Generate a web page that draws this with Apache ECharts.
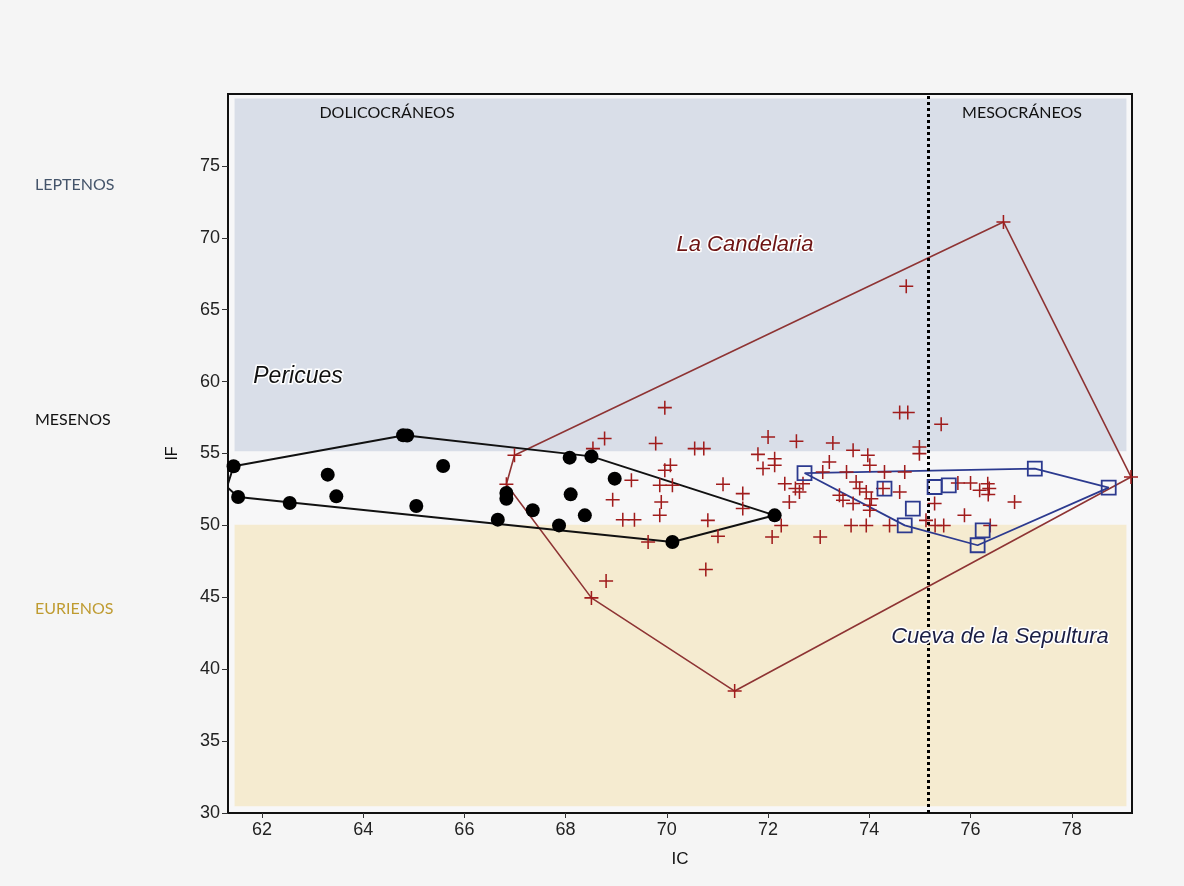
<!DOCTYPE html>
<html>
<head>
<meta charset="utf-8">
<script src="https://cdn.jsdelivr.net/npm/echarts@6/dist/echarts.min.js"></script>
<style>
html,body{margin:0;padding:0;background:#f5f5f5;}
#chart{width:1184px;height:886px;}
</style>
</head>
<body>
<div id="chart"></div>
<script>
// ---- data ----
const xTicks = [62, 64, 66, 68, 70, 72, 74, 76, 78];
const yTicks = [30, 35, 40, 45, 50, 55, 60, 65, 70, 75];
const icDivider = 75.17;          // DOLICOCRÁNEOS | MESOCRÁNEOS
const ifUpper = 55.15;            // LEPTENOS / MESENOS
const ifLower = 50.05;            // MESENOS / EURIENOS

const pericues = [
  [61.44,54.11],[61.31,52.67],[61.53,51.97],[62.55,51.56],[63.30,53.53],[63.47,52.02],
  [64.79,56.27],[64.87,56.25],[65.58,54.13],[65.05,51.35],[66.83,52.25],[66.83,51.85],
  [66.66,50.40],[67.35,51.05],[67.87,50.00],[68.08,54.71],[68.51,54.80],[68.10,52.16],
  [68.38,50.70],[68.97,53.25],[70.11,48.85],[72.13,50.70]
];
const pericuesHull = [
  [61.31,52.67],[61.44,54.11],[64.82,56.27],[68.51,54.80],[72.13,50.70],[70.11,48.85],[61.53,51.97],[61.31,52.67]
];

const candelaria = [
  [66.99,54.88],[76.65,71.10],[79.17,53.37],[71.34,38.48],[68.51,44.96],[66.83,52.86],
  [74.73,66.63],[69.96,58.19],[68.77,56.04],[68.54,55.34],[69.78,55.69],[70.55,55.34],[70.73,55.34],
  [70.07,54.18],[69.96,53.83],[69.30,53.14],[69.86,52.79],[70.11,52.79],[68.93,51.79],[69.89,51.63],
  [69.86,50.70],[69.13,50.40],[69.36,50.40],[69.63,48.85],[68.80,46.14],[70.77,46.93],
  [71.11,52.86],[71.50,52.21],[71.50,51.17],[70.81,50.35],[71.01,49.24],
  [72.00,56.15],[72.56,55.85],[71.80,54.94],[72.13,54.64],[72.13,54.18],[71.90,53.95],
  [72.33,52.90],[72.54,52.56],[72.62,52.32],[72.69,52.90],[72.42,51.63],[72.26,50.00],[72.08,49.19],[73.03,49.19],
  [73.08,53.71],[73.28,55.73],[73.68,55.22],[73.97,54.88],[73.21,54.41],[74.01,54.18],
  [73.55,53.71],[74.30,53.71],[74.70,53.71],[74.99,55.45],[74.99,54.99],
  [73.74,53.02],[73.81,52.56],[73.94,52.32],[73.41,52.09],[73.48,51.75],[73.68,51.52],[74.04,51.86],[74.01,51.40],[74.01,51.05],
  [74.60,52.32],[74.27,52.56],[73.64,50.00],[73.94,50.00],[74.40,50.00],[75.12,50.35],
  [74.60,57.85],[74.76,57.85],[75.42,57.03],
  [75.75,52.95],[76.00,52.95],[76.18,52.44],[76.34,52.90],[76.37,52.56],[76.35,52.15],[76.87,51.63],
  [75.29,51.52],[75.88,50.70],[75.30,50.00],[75.47,50.00],[76.39,50.00]
];
const candelariaHull = [
  [66.99,54.88],[76.65,71.10],[79.17,53.37],[71.34,38.48],[68.51,44.96],[66.83,52.86],[66.99,54.88]
];

const sepultura = [
  [72.72,53.64],[77.27,53.95],[78.73,52.63],[76.14,48.62],[74.70,50.00],
  [74.30,52.56],[74.86,51.17],[75.29,52.67],[75.57,52.79],[76.24,49.66]
];
const sepulturaHull = [
  [72.72,53.64],[77.27,53.95],[78.73,52.63],[76.14,48.62],[74.70,50.00],[72.72,53.64]
];

// ---- chart ----
const chart = echarts.init(document.getElementById('chart'));
const plus = 'path://M4.45,0h1.1v4.45h4.45v1.1h-4.45v4.45h-1.1v-4.45h-4.45v-1.1h4.45z';
const tickFont = {fontFamily:'Liberation Sans, Arial', fontSize:18, color:'#222'};
const navy = '#2c3a8f';
const maroon = '#8e3434';

chart.setOption({
  backgroundColor:'#f5f5f5',
  animation:false,
  grid:{left:228, right:52, top:94, bottom:73, show:true, borderColor:'#111', borderWidth:2, backgroundColor:'#f7f7f8'},
  xAxis:{
    type:'value', min:61.33, max:79.19,
    name:'IC', nameLocation:'middle', nameGap:38,
    nameTextStyle:{fontFamily:'Liberation Sans, Arial', fontSize:17, color:'#111'},
    axisLine:{show:true, lineStyle:{color:'#111', width:2}},
    axisTick:{show:true, length:5, customValues:xTicks, lineStyle:{color:'#333'}},
    axisLabel:Object.assign({customValues:xTicks, margin:8}, tickFont),
    splitLine:{show:false}
  },
  yAxis:{
    type:'value', min:30, max:80,
    name:'IF', nameLocation:'middle', nameGap:47,
    nameTextStyle:{fontFamily:'Liberation Sans, Arial', fontSize:16, color:'#111'},
    axisLine:{show:true, lineStyle:{color:'#111', width:2}},
    axisTick:{show:true, length:6, customValues:yTicks, lineStyle:{color:'#333'}},
    axisLabel:Object.assign({customValues:yTicks, margin:8}, tickFont),
    splitLine:{show:false}
  },
  series:[
    {
      type:'line', data:[], z:1, silent:true,
      markArea:{
        silent:true,
        label:{show:false},
        data:[
          [{coord:[61.46, ifUpper], itemStyle:{color:'#d9dee8'}},{coord:[79.08, 79.68]}],
          [{coord:[61.46, 30.47], itemStyle:{color:'#f5ebd0'}},{coord:[79.08, ifLower]}]
        ]
      },
      markLine:{
        silent:true, symbol:'none', label:{show:false},
        lineStyle:{color:'#000', width:3, type:[3,3], cap:'butt'},
        data:[{xAxis:icDivider}]
      }
    },
    {type:'line', data:candelariaHull, symbol:'none', z:3, lineStyle:{color:maroon, width:1.6}},
    {type:'line', data:pericuesHull, symbol:'none', z:3, lineStyle:{color:'#111', width:2}},
    {type:'line', data:sepulturaHull, symbol:'none', z:3, lineStyle:{color:navy, width:1.8}},
    {type:'scatter', data:candelaria, symbol:plus, symbolSize:14, z:4, itemStyle:{color:'#a01c1c', opacity:1}},
    {type:'scatter', data:pericues, symbol:'circle', symbolSize:14, z:5, itemStyle:{color:'#000', opacity:1}},
    {type:'scatter', data:sepultura, symbol:'rect', symbolSize:14, z:5,
      itemStyle:{color:'rgba(0,0,0,0)', borderColor:navy, borderWidth:1.8, opacity:1}}
  ],
  graphic:[
    {type:'text', z:10, style:{x:35, y:185, text:'LEPTENOS', font:'16px Lato', fill:'#44546a', verticalAlign:'middle'}},
    {type:'text', z:10, style:{x:35, y:420, text:'MESENOS', font:'16px Lato', fill:'#111', verticalAlign:'middle'}},
    {type:'text', z:10, style:{x:35, y:609, text:'EURIENOS', font:'16px Lato', fill:'#bf9b30', verticalAlign:'middle'}},
    {type:'text', z:10, style:{x:387, y:113, text:'DOLICOCRÁNEOS', font:'16px Lato', fill:'#111', align:'center', verticalAlign:'middle'}},
    {type:'text', z:10, style:{x:1022, y:113, text:'MESOCRÁNEOS', font:'16px Lato', fill:'#111', align:'center', verticalAlign:'middle'}},
    {type:'text', z:10, style:{x:298, y:377, text:'Pericues', font:'italic 23px Liberation Sans', fill:'#111', stroke:'#fff', lineWidth:3, align:'center', verticalAlign:'middle'}},
    {type:'text', z:10, style:{x:745, y:245, text:'La Candelaria', font:'italic 22px Liberation Sans', fill:'#6e1414', stroke:'#fff', lineWidth:3, align:'center', verticalAlign:'middle'}},
    {type:'text', z:10, style:{x:1000, y:637, text:'Cueva de la Sepultura', font:'italic 22px Liberation Sans', fill:'#1c1f45', stroke:'#fff', lineWidth:3, align:'center', verticalAlign:'middle'}}
  ]
});
</script>
</body>
</html>
